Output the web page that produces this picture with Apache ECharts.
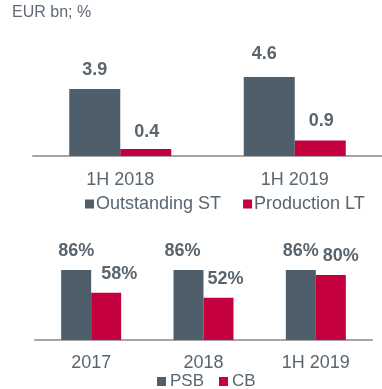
<!DOCTYPE html>
<html>
<head>
<meta charset="utf-8">
<script src="https://cdn.jsdelivr.net/npm/echarts@6/dist/echarts.min.js"></script>
<style>
  html, body { margin: 0; padding: 0; background: #ffffff; }
  #chart { width: 382px; height: 389px; }
</style>
</head>
<body>
<div id="chart"></div>
<script>
// Volumes (EUR bn)
const volumeCategories = ['1H 2018', '1H 2019'];
const outstandingST = [3.9, 4.6];
const productionLT = [0.4, 0.9];

// Shares (%)
const shareCategories = ['2017', '2018', '1H 2019'];
const psbShare = [86, 86, 86];
const cbShare = [58, 52, 80];

const GREY = '#4e5e6b';
const RED = '#c5003e';
const TEXT = '#59656f';
const AXIS = '#a6a6a6';
const FONT = '"Liberation Sans", Arial, sans-serif';

// small label nudges so value labels sit clear of neighbouring bars
const volumeNudgeST = [[0, 0], [-5, -4]];
const volumeNudgeLT = [[1, 2], [1, 0]];
const shareNudgePSB = [[0, 0], [-6, 0], [0, 0]];
const shareNudgeCB = [[13, 0], [7, 0], [10, 0]];

function withLabels(values, nudges) {
  return values.map((v, i) => ({
    value: v,
    label: { offset: nudges[i] }
  }));
}

function valueLabel(fmt) {
  return {
    show: true,
    position: 'top',
    distance: 10,
    color: TEXT,
    fontFamily: FONT,
    fontWeight: 'bold',
    fontSize: 18,
    formatter: fmt
  };
}

const catAxisBase = {
  type: 'category',
  axisTick: { show: false },
  axisLine: { lineStyle: { color: AXIS, width: 2 } },
  axisLabel: { color: TEXT, fontFamily: FONT, fontSize: 18 }
};

const option = {
  backgroundColor: '#ffffff',
  animation: false,
  title: {
    text: 'EUR bn; %',
    left: 12,
    top: 5,
    padding: 0,
    textStyle: { color: '#5f6b77', fontFamily: FONT, fontSize: 16, fontWeight: 'normal' }
  },
  legend: [
    {
      left: 85, top: 195, padding: 0,
      icon: 'rect', itemWidth: 9, itemHeight: 9, itemGap: 22,
      data: ['Outstanding ST', 'Production LT'],
      textStyle: { color: TEXT, fontFamily: FONT, fontSize: 18, padding: [0, 0, 0, -3] }
    },
    {
      left: 157, top: 373, padding: 0,
      icon: 'rect', itemWidth: 9, itemHeight: 9, itemGap: 15,
      data: ['PSB', 'CB'],
      textStyle: { color: TEXT, fontFamily: FONT, fontSize: 17, padding: [0, 0, 0, -1] }
    }
  ],
  grid: [
    { left: 33, right: -13, top: 70, height: 86 },
    { left: 35, right: 10, top: 258.6, height: 81.4 }
  ],
  xAxis: [
    Object.assign({}, catAxisBase, {
      gridIndex: 0, data: volumeCategories,
      axisLabel: Object.assign({}, catAxisBase.axisLabel, { margin: 15 })
    }),
    Object.assign({}, catAxisBase, {
      gridIndex: 1, data: shareCategories,
      axisLabel: Object.assign({}, catAxisBase.axisLabel, { margin: 14 })
    })
  ],
  yAxis: [
    { gridIndex: 0, type: 'value', min: 0, max: 5, show: false },
    { gridIndex: 1, type: 'value', min: 0, max: 100, show: false }
  ],
  series: [
    {
      name: 'Outstanding ST', type: 'bar', xAxisIndex: 0, yAxisIndex: 0,
      barWidth: 51, barGap: '0%',
      itemStyle: { color: GREY },
      label: valueLabel(p => p.value.toFixed(1)),
      data: withLabels(outstandingST, volumeNudgeST)
    },
    {
      name: 'Production LT', type: 'bar', xAxisIndex: 0, yAxisIndex: 0,
      barWidth: 51, barGap: '0%',
      itemStyle: { color: RED },
      label: valueLabel(p => p.value.toFixed(1)),
      data: withLabels(productionLT, volumeNudgeLT)
    },
    {
      name: 'PSB', type: 'bar', xAxisIndex: 1, yAxisIndex: 1,
      barWidth: 30, barGap: '0%',
      itemStyle: { color: GREY },
      label: valueLabel(p => p.value + '%'),
      data: withLabels(psbShare, shareNudgePSB)
    },
    {
      name: 'CB', type: 'bar', xAxisIndex: 1, yAxisIndex: 1,
      barWidth: 30, barGap: '0%',
      itemStyle: { color: RED },
      label: valueLabel(p => p.value + '%'),
      data: withLabels(cbShare, shareNudgeCB)
    }
  ]
};

const chart = echarts.init(document.getElementById('chart'), null, { renderer: 'canvas' });
chart.setOption(option);
</script>
</body>
</html>
